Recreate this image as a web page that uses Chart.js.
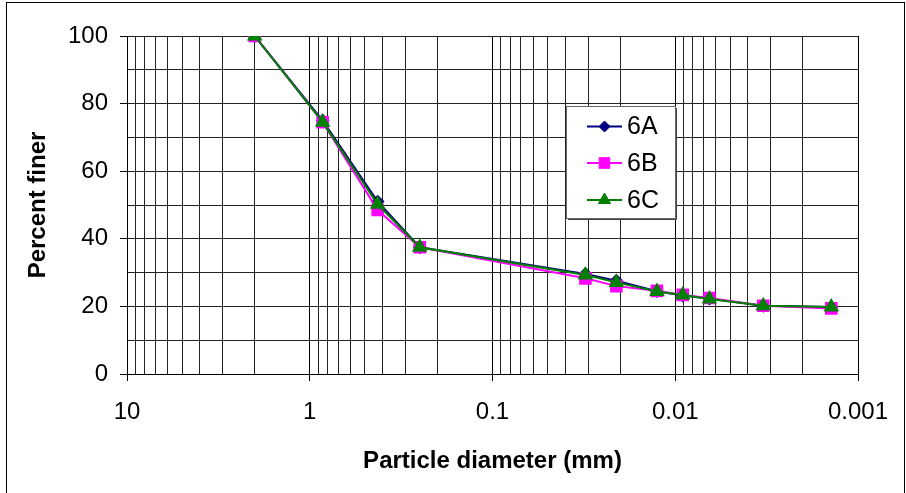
<!DOCTYPE html>
<html>
<head>
<meta charset="utf-8">
<script src="https://cdn.jsdelivr.net/npm/chart.js@4"></script>
<style>
  html, body { margin: 0; padding: 0; background: #fff; }
  #wrap { position: relative; width: 906px; height: 493px; }
</style>
</head>
<body>
<div id="wrap"><canvas id="gradChart" width="906" height="493"></canvas></div>
<script>
// particle diameters (mm) - sieve then hydrometer readings
const diameters = [2.0, 0.85, 0.425, 0.25, 0.031, 0.021, 0.0126, 0.0091, 0.0065, 0.0033, 0.0014];
const finer6A = [100, 75.0, 51.0, 37.5, 29.6, 27.6, 24.5, 23.2, 22.3, 20.2, 19.8];
const finer6B = [100, 74.5, 48.5, 37.5, 28.3, 26.0, 24.6, 23.4, 22.5, 20.2, 19.4];
const finer6C = [100, 74.5, 50.2, 37.5, 29.3, 27.1, 24.4, 23.4, 22.2, 20.2, 19.8];

const xDecades = [10, 1, 0.1, 0.01, 0.001];
const xMinorSteps = [2, 3, 4, 5, 6, 7, 8, 9];
const yLabelled = [0, 20, 40, 60, 80, 100];

const FONT = "'Liberation Sans', Arial, sans-serif";

function toPoints(ys) {
    return diameters.map((d, i) => ({ x: d, y: ys[i] }));
}

// every vertical gridline: decades plus 2..9 within each decade
const xTickValues = [];
xDecades.forEach(d => {
    xTickValues.push(d);
    if (d < 10) xMinorSteps.forEach(s => xTickValues.push(+(s * d).toPrecision(3)));
});
xTickValues.sort((a, b) => a - b);

const isDecade = v => xDecades.some(d => Math.abs(d - v) < d * 1e-6);

const frameBorder = {
    id: 'frameBorder',
    beforeDraw(chart) {
        const ctx = chart.ctx;
        ctx.save();
        ctx.fillStyle = '#fff';
        ctx.fillRect(0, 0, chart.width, chart.height);
        ctx.strokeStyle = '#000';
        ctx.lineWidth = 1;
        ctx.strokeRect(6.5, 2.5, 898, 600);
        ctx.restore();
    }
};

// Excel style legend box floating inside the plot
const boxLegend = {
    id: 'boxLegend',
    afterDraw(chart) {
        const ctx = chart.ctx;
        const x0 = 566, y0 = 106, w = 109, h = 112;
        ctx.save();
        ctx.fillStyle = '#fff';
        ctx.fillRect(x0, y0, w, h);
        ctx.strokeStyle = '#666';
        ctx.lineWidth = 1;
        ctx.strokeRect(x0 + 0.5, y0 + 0.5, w, h);
        ctx.strokeStyle = '#444';
        ctx.beginPath();
        ctx.moveTo(x0 + w + 1.5, y0 + 2);
        ctx.lineTo(x0 + w + 1.5, y0 + h + 1.5);
        ctx.lineTo(x0 + 2, y0 + h + 1.5);
        ctx.stroke();

        const rows = [126.5, 163, 200];
        chart.data.datasets.forEach((ds, i) => {
            const y = rows[i];
            ctx.strokeStyle = ds.borderColor;
            ctx.lineWidth = 2;
            ctx.beginPath();
            ctx.moveTo(587, y);
            ctx.lineTo(622, y);
            ctx.stroke();
            ctx.fillStyle = ds.pointBackgroundColor;
            ctx.strokeStyle = ds.pointBorderColor;
            ctx.lineWidth = 1;
            Chart.helpers.drawPoint(ctx, {
                pointStyle: ds.pointStyle,
                radius: ds.pointRadius,
                borderWidth: 1
            }, 604.5, y);
            ctx.fillStyle = '#000';
            ctx.font = '25px ' + FONT;
            ctx.textBaseline = 'middle';
            ctx.textAlign = 'left';
            ctx.fillText(ds.label, 627, y + 1);
        });
        ctx.restore();
    }
};

new Chart(document.getElementById('gradChart'), {
    type: 'line',
    data: {
        datasets: [
            {
                label: '6A',
                data: toPoints(finer6A),
                borderColor: '#000080',
                borderWidth: 2,
                pointStyle: 'rectRot',
                pointRadius: 5.5,
                pointBackgroundColor: '#000080',
                pointBorderColor: '#000080',
                order: 2
            },
            {
                label: '6B',
                data: toPoints(finer6B),
                borderColor: '#FF00FF',
                borderWidth: 2,
                pointStyle: 'rect',
                pointRadius: 7.5,
                pointBackgroundColor: '#FF00FF',
                pointBorderColor: '#FF00FF',
                order: 1
            },
            {
                label: '6C',
                data: toPoints(finer6C),
                borderColor: '#008000',
                borderWidth: 2,
                pointStyle: 'triangle',
                pointRadius: 7,
                pointBackgroundColor: '#008000',
                pointBorderColor: '#008000',
                order: 0
            }
        ]
    },
    options: {
        responsive: false,
        animation: false,
        layout: { padding: { top: 36, right: 48, left: 0, bottom: 0 } },
        plugins: {
            legend: { display: false },
            tooltip: { enabled: false }
        },
        scales: {
            x: {
                type: 'logarithmic',
                reverse: true,
                min: 0.001,
                max: 10,
                afterBuildTicks: scale => {
                    scale.ticks = xTickValues.map(v => ({ value: v, major: isDecade(v) }));
                },
                afterFit: scale => { scale.height = 119; },
                ticks: {
                    autoSkip: false,
                    maxRotation: 0,
                    padding: 17,
                    color: '#000',
                    font: { family: FONT, size: 24 },
                    callback: v => isDecade(v) ? String(v) : ''
                },
                grid: {
                    color: ctx => (ctx.tick && isDecade(ctx.tick.value)) ? '#000' : '#222',
                    tickColor: ctx => (ctx.tick && isDecade(ctx.tick.value)) ? '#000' : 'rgba(0,0,0,0)',
                    tickLength: 7,
                    lineWidth: 1
                },
                border: { color: '#000', width: 1 },
                title: {
                    display: true,
                    text: 'Particle diameter (mm)',
                    color: '#000',
                    font: { family: FONT, size: 24, weight: 'bold' },
                    padding: { top: 0, bottom: 17 }
                }
            },
            y: {
                min: 0,
                max: 100,
                afterFit: scale => { scale.width = 127; },
                afterBuildTicks: scale => {
                    const t = [];
                    for (let v = 0; v <= 100; v += 10) t.push({ value: v });
                    scale.ticks = t;
                },
                ticks: {
                    padding: 12,
                    color: '#000',
                    font: { family: FONT, size: 24 },
                    callback: v => yLabelled.includes(v) ? String(v) : ''
                },
                grid: {
                    color: '#222',
                    tickColor: ctx => (ctx.tick && yLabelled.includes(ctx.tick.value)) ? '#000' : 'rgba(0,0,0,0)',
                    tickLength: 7,
                    lineWidth: 1
                },
                border: { color: '#000', width: 1 },
                title: {
                    display: true,
                    text: 'Percent finer',
                    color: '#000',
                    font: { family: FONT, size: 24, weight: 'bold' },
                    padding: { top: 24, bottom: 0 }
                }
            }
        }
    },
    plugins: [frameBorder, boxLegend]
});
</script>
</body>
</html>
